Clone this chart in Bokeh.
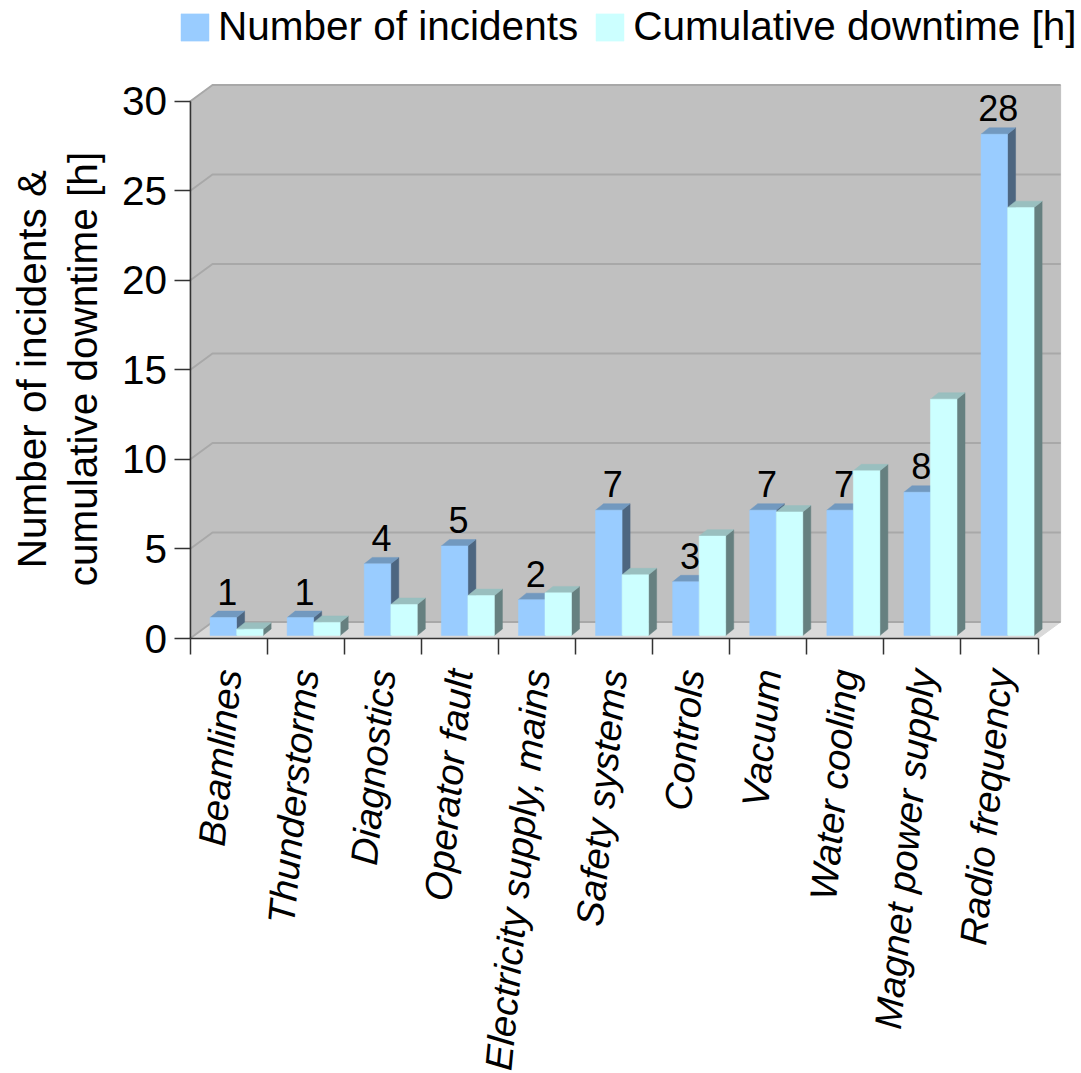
from math import radians

from bokeh.core.properties import value
from bokeh.embed import file_html
from bokeh.models import FixedTicker, Label, Legend, LegendItem, Range1d
from bokeh.plotting import figure
from bokeh.resources import INLINE

FONT = "Liberation Sans"

categories = ["Beamlines", "Thunderstorms", "Diagnostics", "Operator fault",
              "Electricity supply, mains", "Safety systems", "Controls", "Vacuum",
              "Water cooling", "Magnet power supply", "Radio frequency"]
incidents = [1, 1, 4, 5, 2, 7, 3, 7, 7, 8, 28]
downtime = [0.35, 0.73, 1.73, 2.23, 2.38, 3.39, 5.55, 6.9, 9.2, 13.2, 23.9]
y_ticks = [0, 5, 10, 15, 20, 25, 30]

# Pseudo-3D projection, expressed in axis units
DEPTH_X, DEPTH_Y = 0.292, 0.92      # depth of the chart box
BAR_DX, BAR_DY = 0.104, 0.36        # depth of a bar
BASE = 0.17                         # bars stand slightly behind the front edge
GROUP_START, BAR_W = 0.26, 0.344
N = len(categories)

# The plot area fills the page; both axes are pinned to data zero inside it
p = figure(width=1081, height=1073, output_backend="svg", toolbar_location=None,
           x_range=Range1d(-2.458, 11.563), y_range=Range1d(-24.30, 35.64),
           min_border_left=0, min_border_right=0, min_border_top=0,
           min_border_bottom=0, outline_line_color=None,
           background_fill_color="white", border_fill_color="white")
p.grid.visible = False

# Chart box: back wall, left wall, floor
p.patch([DEPTH_X, N + DEPTH_X, N + DEPTH_X, DEPTH_X],
        [DEPTH_Y, DEPTH_Y, 30 + DEPTH_Y, 30 + DEPTH_Y],
        fill_color="#c0c0c0", line_color="#c0c0c0", line_width=1)
p.patch([0, DEPTH_X, DEPTH_X, 0], [0, DEPTH_Y, 30 + DEPTH_Y, 30],
        fill_color="#c0c0c0", line_color="#c0c0c0", line_width=1)
p.patch([0, N, N + DEPTH_X, DEPTH_X], [0, 0, DEPTH_Y, DEPTH_Y],
        fill_color="#d9d9d9", line_color="#d9d9d9", line_width=1)

# Grid lines run along the left wall and then across the back wall
grid_xs = [[0, DEPTH_X, N + DEPTH_X] for _ in y_ticks]
grid_ys = [[t, t + DEPTH_Y, t + DEPTH_Y] for t in y_ticks]
p.multi_line(grid_xs, grid_ys, line_color="#a8a8a8", line_width=2)


def draw_bars(values, offset, front, top, side):
    lefts = [i + GROUP_START + offset for i in range(N)]
    rights = [x + BAR_W for x in lefts]
    tops = [v + BASE for v in values]
    p.patches([[r, r + BAR_DX, r + BAR_DX, r] for r in rights],
              [[BASE, BASE + BAR_DY, t + BAR_DY, t] for t in tops],
              fill_color=side, line_color=side, line_width=0.5)
    p.patches([[l, l + BAR_DX, r + BAR_DX, r] for l, r in zip(lefts, rights)],
              [[t, t + BAR_DY, t + BAR_DY, t] for t in tops],
              fill_color=top, line_color=top, line_width=0.5)
    return p.quad(left=lefts, right=rights, bottom=BASE, top=tops,
                  fill_color=front, line_color=front, line_width=0.5)


blue = draw_bars(incidents, 0, "#99ccff", "#7299bf", "#4d6680")
cyan = draw_bars(downtime, BAR_W, "#ccffff", "#99bfbf", "#668080")

# Value labels above the incident bars
p.text(x=[i + GROUP_START + BAR_W / 2 + BAR_DX / 2 for i in range(N)],
       y=[v + BASE for v in incidents], text=[str(v) for v in incidents],
       text_font=value(FONT), text_font_size="36px", text_color="#000000",
       text_align="center", text_baseline="alphabetic", y_offset=-26)

# Value axis
yaxis = p.yaxis[0]
yaxis.fixed_location = 0
yaxis.bounds = (0, 30)
yaxis.ticker = FixedTicker(ticks=y_ticks)
yaxis.major_tick_out = 16
yaxis.major_tick_in = 0
yaxis.minor_tick_out = 0
yaxis.major_tick_line_color = "#333333"
yaxis.major_tick_line_width = 1.5
yaxis.axis_line_color = "#333333"
yaxis.axis_line_width = 1.5
yaxis.major_label_text_font = FONT
yaxis.major_label_text_font_size = "40.5px"
yaxis.major_label_text_color = "#000000"
yaxis.major_label_standoff = 7

p.add_layout(Label(x=-1.72, y=15.05, text="Number of incidents &\ncumulative downtime [h]",
                   angle=90, angle_units="deg", text_align="center",
                   text_baseline="middle", text_font=FONT, text_font_size="40.5px",
                   text_color="#000000", text_line_height=1.12))

# Category axis: ticks sit between groups, labels sit on the group centres
xaxis = p.xaxis[0]
centres = [i + 0.5 for i in range(N)]
xaxis.fixed_location = 0
xaxis.bounds = (0, N)
xaxis.ticker = FixedTicker(ticks=centres, minor_ticks=list(range(N + 1)))
xaxis.major_label_overrides = dict(zip(centres, categories))
xaxis.major_tick_out = 0
xaxis.major_tick_in = 0
xaxis.minor_tick_out = 16
xaxis.minor_tick_in = 0
xaxis.minor_tick_line_color = "#333333"
xaxis.minor_tick_line_width = 1.5
xaxis.axis_line_color = "#333333"
xaxis.axis_line_width = 1.5
xaxis.major_label_orientation = radians(84.5)
xaxis.major_label_text_font = FONT
xaxis.major_label_text_font_size = "38px"
xaxis.major_label_text_font_style = "italic"
xaxis.major_label_text_color = "#000000"
xaxis.major_label_standoff = 15

legend = Legend(items=[LegendItem(label="Number of incidents", renderers=[blue]),
                       LegendItem(label="Cumulative downtime [h]", renderers=[cyan])],
                orientation="horizontal", location=(177, 1023),
                background_fill_alpha=0, border_line_color=None,
                glyph_width=35, glyph_height=34, label_standoff=6, spacing=14,
                padding=0, margin=0,
                label_text_font=FONT, label_text_font_size="40.5px",
                label_text_color="#000000")
p.add_layout(legend, "center")

open("out.html", "w").write(file_html(p, INLINE))
